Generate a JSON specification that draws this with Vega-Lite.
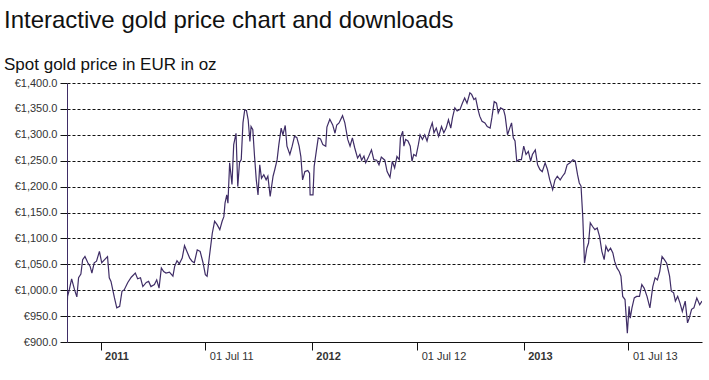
{
  "$schema": "https://vega.github.io/schema/vega-lite/v6.json",
  "autosize": {"type": "none"},
  "width": 635,
  "height": 259,
  "padding": {"left": 67, "top": 83, "right": 7, "bottom": 38},
  "background": "white",
  "config": {
    "font": "Liberation Sans",
    "view": {"stroke": null}
  },
  "title": {
    "text": "Interactive gold price chart and downloads",
    "subtitle": "Spot gold price in EUR in oz",
    "anchor": "start",
    "frame": "group",
    "dx": -63,
    "offset": 4,
    "font": "Liberation Sans",
    "fontSize": 24,
    "fontWeight": "normal",
    "color": "#111111",
    "subtitleFont": "Liberation Sans",
    "subtitleFontSize": 17,
    "subtitleColor": "#111111",
    "subtitlePadding": 24
  },
  "data": {
    "values": [
      {"d": "2010-11-04", "p": 959}, {"d": "2010-11-05", "p": 988}, {"d": "2010-11-08", "p": 1001}, {"d": "2010-11-12", "p": 1022},
      {"d": "2010-11-17", "p": 1001}, {"d": "2010-11-21", "p": 987}, {"d": "2010-11-24", "p": 1024}, {"d": "2010-11-28", "p": 1031},
      {"d": "2010-12-01", "p": 1059}, {"d": "2010-12-05", "p": 1065}, {"d": "2010-12-10", "p": 1053}, {"d": "2010-12-14", "p": 1046},
      {"d": "2010-12-17", "p": 1033}, {"d": "2010-12-21", "p": 1053}, {"d": "2010-12-25", "p": 1056}, {"d": "2010-12-30", "p": 1075},
      {"d": "2011-01-03", "p": 1053}, {"d": "2011-01-08", "p": 1059}, {"d": "2011-01-13", "p": 1065}, {"d": "2011-01-16", "p": 1024},
      {"d": "2011-01-19", "p": 1017}, {"d": "2011-01-25", "p": 985}, {"d": "2011-01-29", "p": 966}, {"d": "2011-02-03", "p": 969},
      {"d": "2011-02-07", "p": 998}, {"d": "2011-02-11", "p": 1001}, {"d": "2011-02-17", "p": 1015}, {"d": "2011-02-23", "p": 1025},
      {"d": "2011-03-02", "p": 1033}, {"d": "2011-03-06", "p": 1022}, {"d": "2011-03-11", "p": 1024}, {"d": "2011-03-15", "p": 1007},
      {"d": "2011-03-21", "p": 1015}, {"d": "2011-03-25", "p": 1017}, {"d": "2011-03-29", "p": 1007}, {"d": "2011-04-04", "p": 1011},
      {"d": "2011-04-08", "p": 1020}, {"d": "2011-04-12", "p": 1004}, {"d": "2011-04-16", "p": 1043}, {"d": "2011-04-20", "p": 1036},
      {"d": "2011-04-24", "p": 1033}, {"d": "2011-04-30", "p": 1035}, {"d": "2011-05-06", "p": 1027}, {"d": "2011-05-09", "p": 1046},
      {"d": "2011-05-13", "p": 1057}, {"d": "2011-05-17", "p": 1051}, {"d": "2011-05-22", "p": 1062}, {"d": "2011-05-26", "p": 1086},
      {"d": "2011-05-30", "p": 1075}, {"d": "2011-06-04", "p": 1062}, {"d": "2011-06-08", "p": 1056}, {"d": "2011-06-12", "p": 1053},
      {"d": "2011-06-17", "p": 1078}, {"d": "2011-06-22", "p": 1075}, {"d": "2011-06-27", "p": 1053}, {"d": "2011-07-01", "p": 1030},
      {"d": "2011-07-04", "p": 1027}, {"d": "2011-07-08", "p": 1065}, {"d": "2011-07-13", "p": 1110}, {"d": "2011-07-17", "p": 1133},
      {"d": "2011-07-21", "p": 1127}, {"d": "2011-07-26", "p": 1117}, {"d": "2011-07-30", "p": 1133}, {"d": "2011-08-02", "p": 1142},
      {"d": "2011-08-04", "p": 1168}, {"d": "2011-08-07", "p": 1184}, {"d": "2011-08-09", "p": 1168}, {"d": "2011-08-12", "p": 1246},
      {"d": "2011-08-16", "p": 1204}, {"d": "2011-08-19", "p": 1281}, {"d": "2011-08-23", "p": 1303}, {"d": "2011-08-26", "p": 1200},
      {"d": "2011-08-29", "p": 1246}, {"d": "2011-09-01", "p": 1252}, {"d": "2011-09-04", "p": 1323}, {"d": "2011-09-07", "p": 1348},
      {"d": "2011-09-10", "p": 1347}, {"d": "2011-09-13", "p": 1329}, {"d": "2011-09-16", "p": 1287}, {"d": "2011-09-18", "p": 1316},
      {"d": "2011-09-21", "p": 1310}, {"d": "2011-09-24", "p": 1258}, {"d": "2011-09-27", "p": 1213}, {"d": "2011-09-30", "p": 1184},
      {"d": "2011-10-03", "p": 1242}, {"d": "2011-10-06", "p": 1216}, {"d": "2011-10-10", "p": 1223}, {"d": "2011-10-14", "p": 1213},
      {"d": "2011-10-17", "p": 1220}, {"d": "2011-10-21", "p": 1181}, {"d": "2011-10-26", "p": 1220}, {"d": "2011-10-29", "p": 1233},
      {"d": "2011-11-02", "p": 1252}, {"d": "2011-11-05", "p": 1281}, {"d": "2011-11-09", "p": 1313}, {"d": "2011-11-12", "p": 1300},
      {"d": "2011-11-16", "p": 1318}, {"d": "2011-11-19", "p": 1278}, {"d": "2011-11-24", "p": 1262}, {"d": "2011-11-28", "p": 1278},
      {"d": "2011-12-02", "p": 1297}, {"d": "2011-12-06", "p": 1295}, {"d": "2011-12-10", "p": 1278}, {"d": "2011-12-13", "p": 1258},
      {"d": "2011-12-16", "p": 1213}, {"d": "2011-12-20", "p": 1229}, {"d": "2011-12-25", "p": 1231}, {"d": "2011-12-28", "p": 1226},
      {"d": "2011-12-29", "p": 1184}, {"d": "2012-01-03", "p": 1184}, {"d": "2012-01-05", "p": 1239}, {"d": "2012-01-09", "p": 1271},
      {"d": "2012-01-12", "p": 1294}, {"d": "2012-01-16", "p": 1292}, {"d": "2012-01-20", "p": 1281}, {"d": "2012-01-25", "p": 1278},
      {"d": "2012-01-27", "p": 1315}, {"d": "2012-02-01", "p": 1330}, {"d": "2012-02-06", "p": 1319}, {"d": "2012-02-10", "p": 1303},
      {"d": "2012-02-13", "p": 1319}, {"d": "2012-02-17", "p": 1323}, {"d": "2012-02-23", "p": 1337}, {"d": "2012-02-27", "p": 1323},
      {"d": "2012-03-03", "p": 1291}, {"d": "2012-03-07", "p": 1278}, {"d": "2012-03-11", "p": 1294}, {"d": "2012-03-15", "p": 1275},
      {"d": "2012-03-20", "p": 1255}, {"d": "2012-03-24", "p": 1262}, {"d": "2012-03-27", "p": 1251}, {"d": "2012-03-31", "p": 1259},
      {"d": "2012-04-03", "p": 1246}, {"d": "2012-04-07", "p": 1255}, {"d": "2012-04-13", "p": 1271}, {"d": "2012-04-17", "p": 1252},
      {"d": "2012-04-22", "p": 1251}, {"d": "2012-04-26", "p": 1242}, {"d": "2012-04-30", "p": 1257}, {"d": "2012-05-06", "p": 1251},
      {"d": "2012-05-10", "p": 1229}, {"d": "2012-05-15", "p": 1218}, {"d": "2012-05-19", "p": 1249}, {"d": "2012-05-23", "p": 1236},
      {"d": "2012-05-27", "p": 1258}, {"d": "2012-05-31", "p": 1252}, {"d": "2012-06-02", "p": 1294}, {"d": "2012-06-06", "p": 1307},
      {"d": "2012-06-08", "p": 1278}, {"d": "2012-06-11", "p": 1291}, {"d": "2012-06-15", "p": 1288}, {"d": "2012-06-19", "p": 1278},
      {"d": "2012-06-22", "p": 1249}, {"d": "2012-06-25", "p": 1262}, {"d": "2012-06-29", "p": 1259}, {"d": "2012-07-03", "p": 1281},
      {"d": "2012-07-06", "p": 1300}, {"d": "2012-07-10", "p": 1291}, {"d": "2012-07-14", "p": 1300}, {"d": "2012-07-18", "p": 1288},
      {"d": "2012-07-23", "p": 1310}, {"d": "2012-07-27", "p": 1323}, {"d": "2012-07-30", "p": 1304}, {"d": "2012-08-03", "p": 1313},
      {"d": "2012-08-07", "p": 1297}, {"d": "2012-08-12", "p": 1316}, {"d": "2012-08-16", "p": 1304}, {"d": "2012-08-20", "p": 1313},
      {"d": "2012-08-24", "p": 1329}, {"d": "2012-08-28", "p": 1313}, {"d": "2012-08-31", "p": 1333}, {"d": "2012-09-04", "p": 1352},
      {"d": "2012-09-08", "p": 1346}, {"d": "2012-09-13", "p": 1349}, {"d": "2012-09-17", "p": 1361}, {"d": "2012-09-21", "p": 1371},
      {"d": "2012-09-25", "p": 1361}, {"d": "2012-09-30", "p": 1381}, {"d": "2012-10-03", "p": 1378}, {"d": "2012-10-07", "p": 1368},
      {"d": "2012-10-10", "p": 1371}, {"d": "2012-10-14", "p": 1349}, {"d": "2012-10-17", "p": 1336}, {"d": "2012-10-21", "p": 1326},
      {"d": "2012-10-26", "p": 1323}, {"d": "2012-10-30", "p": 1316}, {"d": "2012-11-04", "p": 1313}, {"d": "2012-11-07", "p": 1333},
      {"d": "2012-11-11", "p": 1364}, {"d": "2012-11-15", "p": 1361}, {"d": "2012-11-18", "p": 1342}, {"d": "2012-11-22", "p": 1352},
      {"d": "2012-11-27", "p": 1349}, {"d": "2012-11-30", "p": 1336}, {"d": "2012-12-04", "p": 1300}, {"d": "2012-12-07", "p": 1310},
      {"d": "2012-12-11", "p": 1323}, {"d": "2012-12-14", "p": 1294}, {"d": "2012-12-17", "p": 1288}, {"d": "2012-12-20", "p": 1249},
      {"d": "2012-12-24", "p": 1252}, {"d": "2012-12-28", "p": 1252}, {"d": "2013-01-01", "p": 1278}, {"d": "2013-01-05", "p": 1262},
      {"d": "2013-01-09", "p": 1268}, {"d": "2013-01-13", "p": 1249}, {"d": "2013-01-16", "p": 1262}, {"d": "2013-01-21", "p": 1271},
      {"d": "2013-01-25", "p": 1242}, {"d": "2013-01-29", "p": 1233}, {"d": "2013-02-02", "p": 1229}, {"d": "2013-02-07", "p": 1246},
      {"d": "2013-02-11", "p": 1233}, {"d": "2013-02-15", "p": 1213}, {"d": "2013-02-20", "p": 1194}, {"d": "2013-02-24", "p": 1213},
      {"d": "2013-02-28", "p": 1220}, {"d": "2013-03-05", "p": 1213}, {"d": "2013-03-09", "p": 1220}, {"d": "2013-03-13", "p": 1226},
      {"d": "2013-03-17", "p": 1242}, {"d": "2013-03-22", "p": 1246}, {"d": "2013-03-27", "p": 1252}, {"d": "2013-03-31", "p": 1249},
      {"d": "2013-04-04", "p": 1223}, {"d": "2013-04-07", "p": 1207}, {"d": "2013-04-10", "p": 1201}, {"d": "2013-04-13", "p": 1142},
      {"d": "2013-04-16", "p": 1052}, {"d": "2013-04-20", "p": 1081}, {"d": "2013-04-23", "p": 1091}, {"d": "2013-04-26", "p": 1130},
      {"d": "2013-04-30", "p": 1123}, {"d": "2013-05-04", "p": 1117}, {"d": "2013-05-08", "p": 1120}, {"d": "2013-05-12", "p": 1104},
      {"d": "2013-05-16", "p": 1075}, {"d": "2013-05-20", "p": 1059}, {"d": "2013-05-23", "p": 1085}, {"d": "2013-05-27", "p": 1075},
      {"d": "2013-05-31", "p": 1081}, {"d": "2013-06-04", "p": 1072}, {"d": "2013-06-07", "p": 1056}, {"d": "2013-06-11", "p": 1043},
      {"d": "2013-06-15", "p": 1036}, {"d": "2013-06-18", "p": 1027}, {"d": "2013-06-21", "p": 988}, {"d": "2013-06-25", "p": 982},
      {"d": "2013-06-29", "p": 917}, {"d": "2013-07-02", "p": 969}, {"d": "2013-07-04", "p": 946}, {"d": "2013-07-07", "p": 966},
      {"d": "2013-07-11", "p": 985}, {"d": "2013-07-15", "p": 988}, {"d": "2013-07-20", "p": 988}, {"d": "2013-07-24", "p": 1011},
      {"d": "2013-07-28", "p": 1004}, {"d": "2013-08-02", "p": 988}, {"d": "2013-08-07", "p": 966}, {"d": "2013-08-12", "p": 1007},
      {"d": "2013-08-16", "p": 1024}, {"d": "2013-08-20", "p": 1020}, {"d": "2013-08-24", "p": 1036}, {"d": "2013-08-28", "p": 1065},
      {"d": "2013-09-01", "p": 1059}, {"d": "2013-09-05", "p": 1052}, {"d": "2013-09-10", "p": 1027}, {"d": "2013-09-13", "p": 998},
      {"d": "2013-09-17", "p": 995}, {"d": "2013-09-20", "p": 979}, {"d": "2013-09-24", "p": 988}, {"d": "2013-09-28", "p": 975},
      {"d": "2013-10-02", "p": 959}, {"d": "2013-10-07", "p": 979}, {"d": "2013-10-11", "p": 937}, {"d": "2013-10-14", "p": 946},
      {"d": "2013-10-18", "p": 963}, {"d": "2013-10-22", "p": 966}, {"d": "2013-10-27", "p": 985}, {"d": "2013-11-01", "p": 972},
      {"d": "2013-11-05", "p": 979}
    ]
  },
  "mark": {"type": "line", "color": "#3f2d66", "strokeWidth": 1.2, "clip": true},
  "encoding": {
    "x": {
      "field": "d",
      "type": "temporal",
      "scale": {"type": "utc", "domain": [{"year": 2010, "month": 11, "date": 4, "utc": true}, {"year": 2013, "month": 11, "date": 5, "utc": true}], "nice": false},
      "axis": {
        "title": null,
        "grid": false,
        "values": [
          {"year": 2011, "month": 1, "date": 1, "utc": true},
          {"year": 2011, "month": 7, "date": 1, "utc": true},
          {"year": 2012, "month": 1, "date": 1, "utc": true},
          {"year": 2012, "month": 7, "date": 1, "utc": true},
          {"year": 2013, "month": 1, "date": 1, "utc": true},
          {"year": 2013, "month": 7, "date": 1, "utc": true}
        ],
        "labelExpr": "utcmonth(datum.value) == 0 ? utcFormat(datum.value, '%Y') : utcFormat(datum.value, '%d %b %y')",
        "labelFontWeight": {"condition": {"test": "utcmonth(datum.value) == 0", "value": "bold"}, "value": "normal"},
        "labelAlign": "left",
        "labelBaseline": "top",
        "labelOffset": 4,
        "labelPadding": 0,
        "labelFontSize": 11,
        "labelColor": "#333333",
        "labelFont": "Liberation Sans",
        "tickSize": 8,
        "tickColor": "#111111",
        "domainColor": "#111111",
        "labelFlush": false,
        "labelOverlap": false
      }
    },
    "y": {
      "field": "p",
      "type": "quantitative",
      "scale": {"domain": [900, 1400], "nice": false, "zero": false},
      "axis": {
        "title": null,
        "values": [900, 950, 1000, 1050, 1100, 1150, 1200, 1250, 1300, 1350, 1400],
        "labelExpr": "'€' + format(datum.value, ',.1f')",
        "labelFontSize": 11,
        "labelColor": "#333333",
        "labelFont": "Liberation Sans",
        "labelPadding": 3,
        "tickSize": 7,
        "tickColor": "#111111",
        "domainColor": "#3f2d66",
        "grid": true,
        "gridColor": "#111111",
        "gridDash": [3, 2],
        "gridWidth": 1,
        "gridOpacity": 1
      }
    }
  }
}
